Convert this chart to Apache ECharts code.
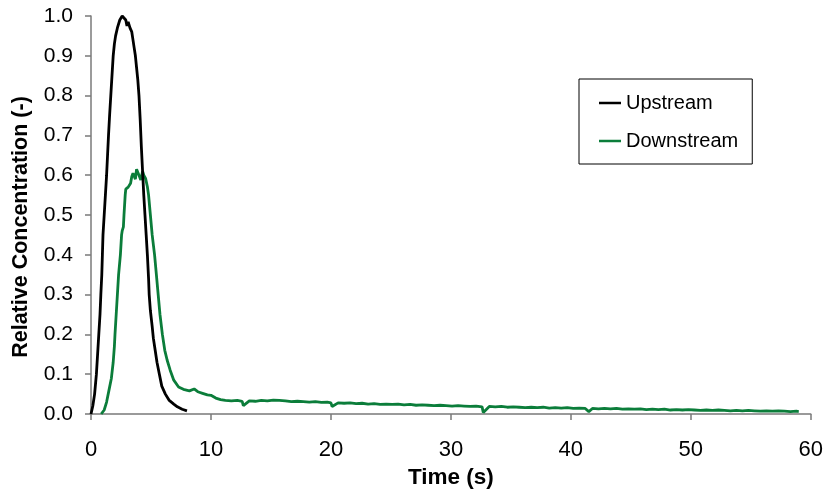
<!DOCTYPE html>
<html>
<head>
<meta charset="utf-8">
<title>Relative Concentration</title>
<script src="https://cdn.jsdelivr.net/npm/echarts@6/dist/echarts.min.js"></script>
<style>
  html, body { margin: 0; padding: 0; background: #fff; }
  #chart { width: 826px; height: 496px; }
</style>
</head>
<body>
<div id="chart"></div>
<script>
// Upstream tracer pulse
const upstreamTime = [
  0.0, 0.15, 0.3, 0.45, 0.55, 0.65, 0.75, 0.82, 0.9, 0.95,
  1.0, 1.1, 1.2, 1.3, 1.38, 1.46, 1.55, 1.65, 1.75, 1.85,
  1.95, 2.05, 2.2, 2.4, 2.6, 2.75, 2.9, 3.0, 3.1, 3.25,
  3.4, 3.5, 3.6, 3.7, 3.8, 3.9, 4.0, 4.1, 4.2, 4.3,
  4.4, 4.5, 4.6, 4.7, 4.8, 4.85, 4.95, 5.1, 5.2, 5.35,
  5.5, 5.7, 5.9, 6.2, 6.5, 6.9, 7.2, 7.6, 8.0
];
const upstreamConc = [
  0.0, 0.02, 0.05, 0.10, 0.15, 0.20, 0.25, 0.30, 0.35, 0.40,
  0.45, 0.50, 0.55, 0.60, 0.65, 0.70, 0.75, 0.80, 0.85, 0.90,
  0.93, 0.95, 0.97, 0.99, 1.0, 1.0, 0.99, 0.975, 0.985, 0.97,
  0.96, 0.94, 0.92, 0.90, 0.87, 0.84, 0.80, 0.74, 0.67, 0.61,
  0.55, 0.50, 0.45, 0.40, 0.34, 0.30, 0.26, 0.22, 0.19, 0.16,
  0.13, 0.10, 0.07, 0.05, 0.035, 0.025, 0.018, 0.012, 0.008
];

// Downstream tracer response
const downstreamTime = [
  0.85, 1.1, 1.3, 1.5, 1.7, 1.85, 1.95, 2.0, 2.1, 2.2,
  2.3, 2.45, 2.55, 2.6, 2.7, 2.75, 2.85, 2.9, 3.1, 3.2,
  3.3, 3.4, 3.5, 3.6, 3.7, 3.8, 3.9, 4.0, 4.1, 4.15,
  4.3, 4.4, 4.55, 4.7, 4.8, 4.95, 5.1, 5.3, 5.45, 5.6,
  5.75, 5.95, 6.15, 6.35, 6.6, 6.9, 7.3, 7.7, 8.2, 8.6,
  8.9, 9.3, 9.7, 10.0, 10.4, 10.8, 11.2, 11.7, 12.2, 12.6,
  12.7, 13.2, 13.7, 14.2, 14.7, 15.2, 15.7, 16.2, 16.7, 17.2,
  17.7, 18.2, 18.7, 19.2, 19.7, 20.0, 20.1, 20.6, 21.1, 21.6,
  22.1, 22.6, 23.1, 23.6, 24.1, 24.6, 25.1, 25.6, 26.1, 26.6,
  27.1, 27.6, 28.1, 28.6, 29.1, 29.6, 30.1, 30.6, 31.1, 31.6,
  32.1, 32.6, 32.7, 33.2, 33.7, 34.2, 34.7, 35.2, 35.7, 36.2,
  36.7, 37.2, 37.7, 38.2, 38.7, 39.2, 39.7, 40.2, 40.7, 41.2,
  41.5, 41.8, 42.3, 42.8, 43.3, 43.8, 44.3, 44.8, 45.3, 45.8,
  46.3, 46.8, 47.3, 47.8, 48.3, 48.8, 49.3, 49.8, 50.3, 50.8,
  51.3, 51.8, 52.3, 52.8, 53.3, 53.8, 54.3, 54.8, 55.3, 55.8,
  56.3, 56.8, 57.3, 57.8, 58.3, 58.8, 59.0
];
const downstreamConc = [
  0.0, 0.01, 0.03, 0.06, 0.09, 0.13, 0.17, 0.20, 0.25, 0.30,
  0.35, 0.40, 0.45, 0.46, 0.47, 0.50, 0.55, 0.565, 0.57, 0.575,
  0.58, 0.597, 0.605, 0.61, 0.59, 0.615, 0.613, 0.60, 0.605, 0.588,
  0.61, 0.60, 0.592, 0.571, 0.55, 0.50, 0.45, 0.40, 0.35, 0.30,
  0.25, 0.20, 0.16, 0.135, 0.11, 0.085, 0.068, 0.062, 0.058, 0.063,
  0.056, 0.052, 0.048, 0.047, 0.040, 0.036, 0.034, 0.033, 0.034, 0.032,
  0.021, 0.033, 0.032, 0.034, 0.033, 0.035, 0.034, 0.033, 0.031, 0.032,
  0.031, 0.030, 0.031, 0.029, 0.030, 0.028, 0.019, 0.028, 0.027, 0.028,
  0.026, 0.027, 0.025, 0.026, 0.024, 0.025, 0.024, 0.025, 0.023, 0.024,
  0.022, 0.023, 0.022, 0.021, 0.022, 0.021, 0.020, 0.021, 0.020, 0.019,
  0.020, 0.018, 0.004, 0.019, 0.018, 0.019, 0.017, 0.018, 0.017, 0.016,
  0.017, 0.016, 0.017, 0.015, 0.016, 0.015, 0.016, 0.014, 0.015, 0.014,
  0.006, 0.014, 0.013, 0.014, 0.013, 0.014, 0.012, 0.013, 0.012, 0.013,
  0.011, 0.012, 0.011, 0.012, 0.010, 0.011, 0.010, 0.011, 0.010, 0.009,
  0.010, 0.009, 0.010, 0.009, 0.008, 0.009, 0.008, 0.009, 0.008, 0.007,
  0.008, 0.007, 0.008, 0.007, 0.006, 0.007, 0.006
];

const xTicks = { min: 0, max: 60, step: 10 };
const yTicks = { min: 0, max: 1, step: 0.1 };

function pairs(xs, ys) {
  return xs.map((x, i) => [x, ys[i]]);
}

const FONT = 'Liberation Sans, Arial, sans-serif';
const AXIS_COLOR = '#7a7a7a';

const chart = echarts.init(document.getElementById('chart'), null, { renderer: 'canvas' });
chart.setOption({
  animation: false,
  backgroundColor: '#ffffff',
  textStyle: { fontFamily: FONT, color: '#000' },
  grid: { left: 91, right: 13, top: 16, bottom: 82, containLabel: false },
  legend: {
    orient: 'vertical',
    left: 579,
    top: 79,
    padding: [14, 14, 13, 20],
    itemGap: 18,
    itemWidth: 22,
    itemHeight: 2.5,
    icon: 'rect',
    borderColor: '#000',
    borderWidth: 1,
    backgroundColor: '#fff',
    textStyle: { fontFamily: FONT, fontSize: 20, color: '#000', padding: [0, 0, 0, 0] },
    data: ['Upstream', 'Downstream']
  },
  xAxis: {
    type: 'value',
    min: xTicks.min,
    max: xTicks.max,
    interval: xTicks.step,
    name: 'Time (s)',
    nameLocation: 'middle',
    nameGap: 52,
    nameTextStyle: { fontFamily: FONT, fontSize: 22.5, fontWeight: 'bold', color: '#000' },
    axisLine: { show: true, lineStyle: { color: AXIS_COLOR, width: 1.5 } },
    axisTick: { show: true, inside: false, length: 6, lineStyle: { color: AXIS_COLOR, width: 1.5 } },
    axisLabel: { fontFamily: FONT, fontSize: 22, color: '#000', margin: 25 },
    splitLine: { show: false }
  },
  yAxis: {
    type: 'value',
    min: yTicks.min,
    max: yTicks.max,
    interval: yTicks.step,
    name: 'Relative Concentration (-)',
    nameLocation: 'middle',
    nameGap: 59,
    nameTextStyle: {
      fontFamily: FONT, fontSize: 21.5, fontWeight: 'bold', color: '#000',
      padding: [0, 24, 0, 0]
    },
    axisLine: { show: true, lineStyle: { color: AXIS_COLOR, width: 1.5 } },
    axisTick: { show: true, inside: false, length: 6, lineStyle: { color: AXIS_COLOR, width: 1.5 } },
    axisLabel: {
      fontFamily: FONT, fontSize: 21, color: '#000', margin: 18,
      formatter: v => v.toFixed(1)
    },
    splitLine: { show: false }
  },
  series: [
    {
      name: 'Upstream',
      type: 'line',
      data: pairs(upstreamTime, upstreamConc),
      showSymbol: false,
      symbol: 'none',
      color: '#000000',
      lineStyle: { color: '#000000', width: 2.8 },
      z: 3
    },
    {
      name: 'Downstream',
      type: 'line',
      data: pairs(downstreamTime, downstreamConc),
      showSymbol: false,
      symbol: 'none',
      color: '#0b7d3a',
      lineStyle: { color: '#0b7d3a', width: 2.8 },
      z: 2
    }
  ]
});
</script>
</body>
</html>
